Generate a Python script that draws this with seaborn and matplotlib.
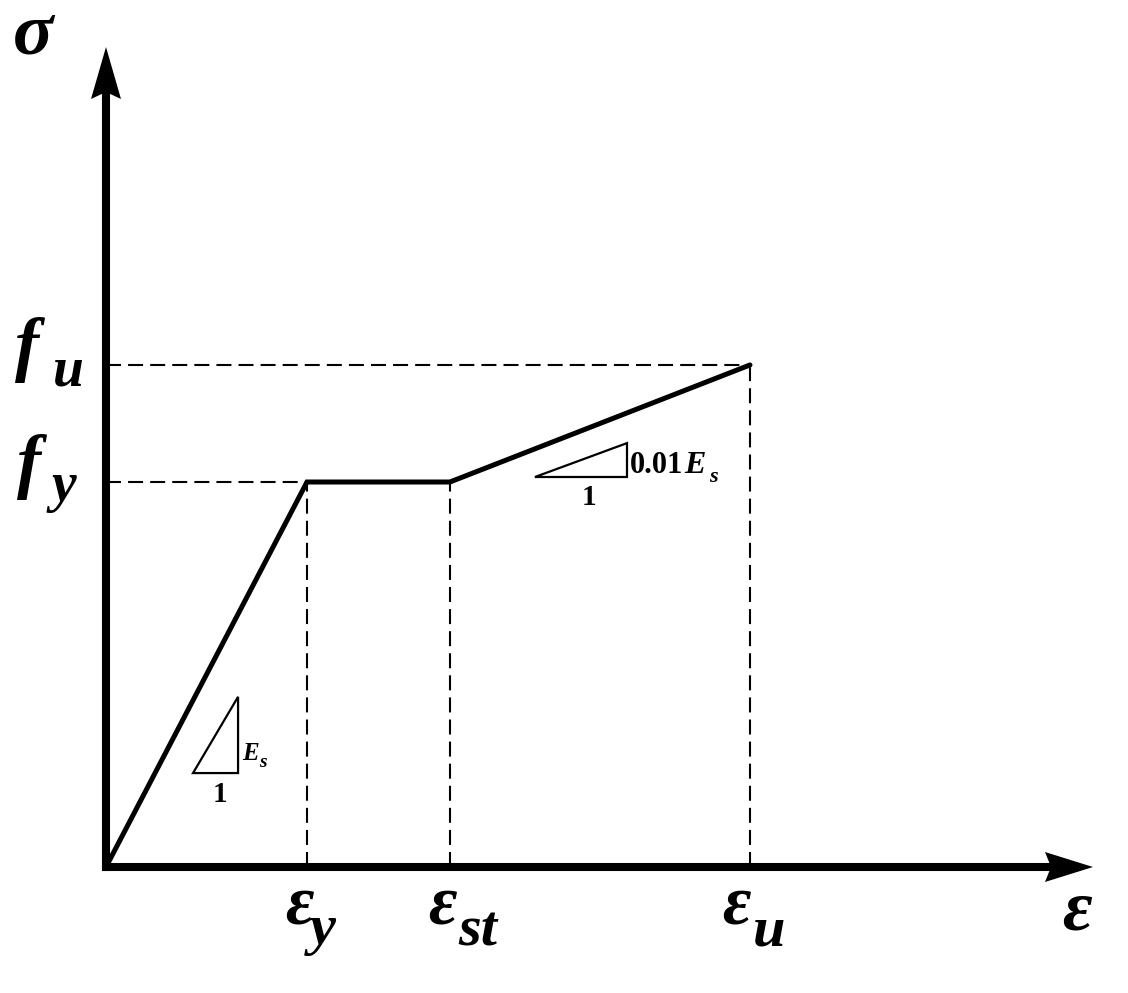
import numpy as np
import pandas as pd
import seaborn as sns
import matplotlib
matplotlib.use("Agg")
import matplotlib.pyplot as plt
from matplotlib.patches import Polygon
from matplotlib.transforms import Affine2D, ScaledTranslation

# ---------------- data (schematic units) ----------------
point_names = ["origin", "yield", "strain hardening", "ultimate"]
strain = [0.0, 1.0, 1.711, 3.204]          # eps_y = 1
stress = [0.0, 1.0, 1.0, 1.304]            # f_y = 1
x_tick_base = ["ε", "ε", "ε"]
x_tick_sub = ["y", "st", "u"]
y_tick_base = ["f", "f"]
y_tick_sub = ["y", "u"]
axis_x_label = "ε"
axis_y_label = "σ"
slope1_text = ("E", "s")
slope2_text = ("0.01", "E", "s")
run_text = "1"
# slope triangles (x0, x1, y0, y1) in data units
tri1 = [0.433, 0.657, 0.244, 0.442]
tri2 = [2.134, 2.592, 1.013, 1.101]

# ---------------- figure ----------------
W, H = 1128, 993
sns.set_style("white")
plt.rcParams["font.family"] = ["Liberation Serif", "DejaVu Serif"]
plt.rcParams["text.color"] = "black"

fig = plt.figure(figsize=(W / 100, H / 100), dpi=100)
ox, oy = 106, 867            # origin pixel
px_x, px_y = 201.0, 385.0    # pixels per unit
tip_x, tip_y = 1093, 47
ax = fig.add_axes([ox / W, (H - oy) / H, (tip_x - ox) / W, (oy - tip_y) / H])
xmax = (tip_x - ox) / px_x
ymax = (oy - tip_y) / px_y
ax.set_xlim(0, xmax)
ax.set_ylim(0, ymax)
ax.axis("off")

# dashed guide lines
dash = dict(color="black", lw=1.5, linestyle=(0, (7.2, 3.4)), zorder=1, clip_on=False)
for xs, ys in zip(strain[1:], stress[1:]):
    ax.plot([xs, xs], [0, ys], **dash)
for xs, ys in [(strain[1], stress[1]), (strain[3], stress[3])]:
    ax.plot([0, xs], [ys, ys], **dash)

# main stress-strain curve
df = pd.DataFrame({"strain": strain, "stress": stress})
sns.lineplot(data=df, x="strain", y="stress", ax=ax, color="black", lw=3.6,
             sort=False, estimator=None, zorder=3)
for l in ax.lines[-1:]:
    l.set_solid_joinstyle("miter")
    l.set_clip_on(False)

# axes with arrows
axis_kw = dict(color="black", lw=5.8, solid_capstyle="projecting", zorder=4, clip_on=False)
ax.plot([0, xmax - 30 / px_x], [0, 0], **axis_kw)
ax.plot([0, 0], [0, ymax - 30 / px_y], **axis_kw)

def head(xy, verts):
    tr = Affine2D() + ScaledTranslation(xy[0], xy[1], ax.transData)
    ax.add_patch(Polygon(verts, closed=True, facecolor="black", edgecolor="none",
                         transform=tr, zorder=5, clip_on=False))

head((xmax, 0), [(0, 0), (-48, 15), (-42, 0), (-48, -15)])
head((0, ymax), [(0, 0), (15, -52), (0, -45), (-15, -52)])

# slope triangles
for tri in (tri1, tri2):
    x0, x1, y0, y1 = tri
    ax.add_patch(Polygon([(x0, y0), (x1, y0), (x1, y1)], closed=True, fill=False,
                         edgecolor="black", lw=1.6, joinstyle="miter", zorder=2))

txt = dict(fontweight="bold", fontstyle="italic", ha="left", va="baseline", color="black",
           textcoords="offset pixels", xycoords="data", annotation_clip=False)

def lab(anchor, s, off, size, **kw):
    d = dict(txt)
    d.update(kw)
    ax.annotate(s, xy=anchor, xytext=off, fontsize=size, **d)

# x tick labels
xoffs = [((-22, -56), (3, -77)), ((-22, -56), (8, -78)), ((-28, -56), (3, -78))]
for xs, b, s, (ob, osub) in zip(strain[1:], x_tick_base, x_tick_sub, xoffs):
    lab((xs, 0), b, ob, 50)
    lab((xs, 0), s, osub, 42)

# y tick labels
yvals = [stress[1], stress[3]]
yoffs = [((-89, -3), (-54, -19)), ((-91, -3), (-53, -21))]
for ys, b, s, (ob, osub) in zip(yvals, y_tick_base, y_tick_sub, yoffs):
    lab((0, ys), b, ob, 52)
    lab((0, ys), s, osub, 40)

# axis labels
lab((xmax, 0), axis_x_label, (-31, -63), 52)
lab((0, ymax), axis_y_label, (-93, -6), 54)

# triangle labels
lab((tri1[1], tri1[2]), slope1_text[0], (4, 13), 18)
lab((tri1[1], tri1[2]), slope1_text[1], (21, 6), 14)
lab(((tri1[0] + tri1[1]) / 2, tri1[2]), run_text, (4, -29), 21, fontstyle="normal", ha="center")

lab((tri2[1], tri2[2]), slope2_text[0], (3, 4), 22, fontstyle="normal")
lab((tri2[1], tri2[2]), slope2_text[1], (57, 4), 23)
lab((tri2[1], tri2[2]), slope2_text[2], (82, -5), 16)
lab(((tri2[0] + tri2[1]) / 2, tri2[2]), run_text, (8, -28), 21, fontstyle="normal", ha="center")

fig.savefig("out.png", dpi=100, facecolor="white")
